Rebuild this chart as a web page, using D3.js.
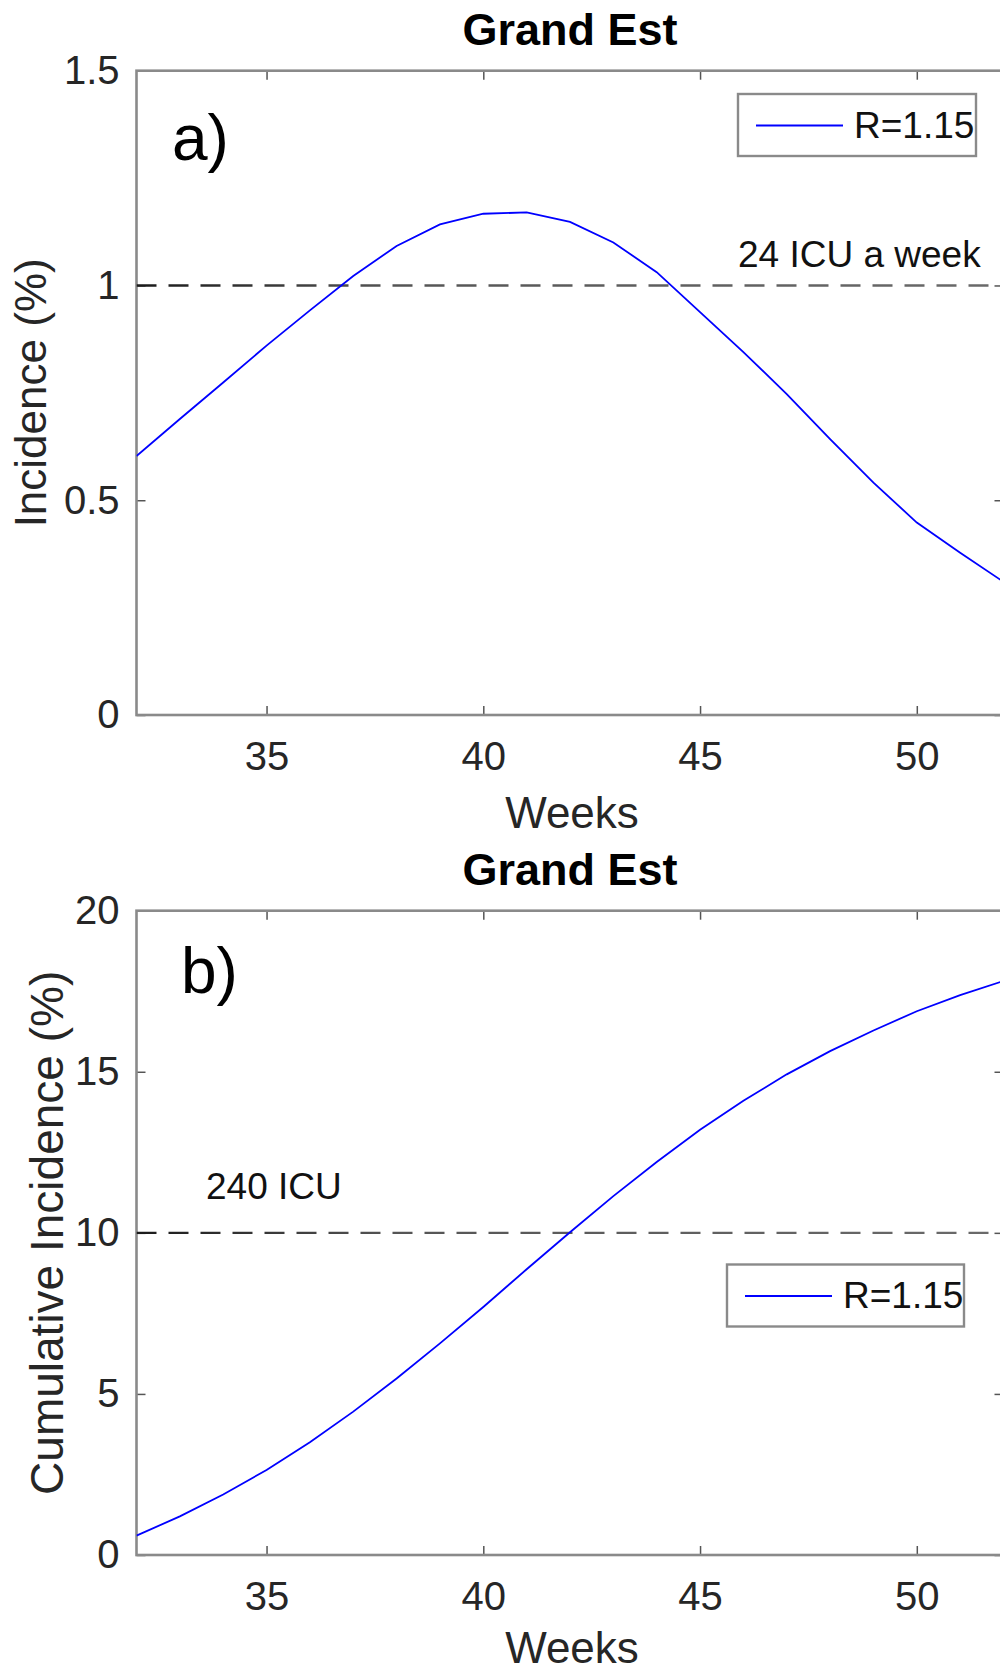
<!DOCTYPE html>
<html>
<head>
<meta charset="utf-8">
<script src="https://cdn.jsdelivr.net/npm/d3@7"></script>
<style>
  html, body { margin: 0; padding: 0; background: #fff; }
  svg { display: block; font-family: "Liberation Sans", Arial, Helvetica, sans-serif; }
</style>
</head>
<body>
<svg id="chart" width="1000" height="1673"></svg>
<script>
// ---- data ----
const weeks = [32, 33, 34, 35, 36, 37, 38, 39, 40, 41, 42, 43, 44, 45, 46, 47, 48, 49, 50, 51, 52];
const incidence = [0.603, 0.689, 0.774, 0.86, 0.942, 1.022, 1.092, 1.142, 1.167, 1.170, 1.148, 1.10, 1.031, 0.938, 0.845, 0.747, 0.642, 0.541, 0.448, 0.378, 0.31];
const cumulative = [0.6, 1.2, 1.88, 2.64, 3.5, 4.45, 5.48, 6.57, 7.7, 8.87, 10.02, 11.14, 12.2, 13.2, 14.1, 14.92, 15.64, 16.28, 16.88, 17.38, 17.82];
const xTicks = [35, 40, 45, 50];
const yTicksA = [0, 0.5, 1, 1.5];
const yTicksB = [0, 5, 10, 15, 20];
const titleText = "Grand Est";
const seriesName = "R=1.15";

const svg = d3.select("#chart");
const FONT_COLOR = "#262626";
const AXIS_COLOR = "#8a8a8a";

// gradient for the dashed threshold line (dark at left, lighter gray to the right)
const defs = svg.append("defs");
const grad = defs.append("linearGradient").attr("id", "dashGrad")
  .attr("gradientUnits", "userSpaceOnUse").attr("x1", 136).attr("x2", 1000).attr("y1", 0).attr("y2", 0);
grad.append("stop").attr("offset", "0%").attr("stop-color", "#1a1a1a");
grad.append("stop").attr("offset", "30%").attr("stop-color", "#555");
grad.append("stop").attr("offset", "100%").attr("stop-color", "#6a6a6a");

function panel(opts) {
  const top = opts.top, bottom = opts.top + 644.3;
  const x = d3.scaleLinear().domain([32, 52]).range([136.5, 1003.5]);
  const y = d3.scaleLinear().domain(opts.yDomain).range([bottom, top]);
  const g = svg.append("g");

  const clipId = "clip" + opts.id;
  defs.append("clipPath").attr("id", clipId)
    .append("rect").attr("x", x(32)).attr("y", top).attr("width", x(52) - x(32)).attr("height", bottom - top);

  // title
  g.append("text").attr("x", 570).attr("y", top - 25.7)
    .attr("text-anchor", "middle").attr("font-size", 45).attr("font-weight", "bold")
    .attr("fill", "#000").text(titleText);

  // axes
  const xb = g.append("g").attr("transform", `translate(0,${bottom})`)
    .call(d3.axisBottom(x).tickValues(xTicks).tickSize(-9).tickSizeOuter(0).tickPadding(27).tickFormat(d3.format("d")));
  const xt = g.append("g").attr("transform", `translate(0,${top})`)
    .call(d3.axisTop(x).tickValues(xTicks).tickSize(-9).tickSizeOuter(0).tickFormat(""));
  const yl = g.append("g").attr("transform", `translate(${x(32)},0)`)
    .call(d3.axisLeft(y).tickValues(opts.yTicks).tickSize(-9).tickSizeOuter(0).tickPadding(17).tickFormat(d => String(d)));
  const yr = g.append("g").attr("transform", `translate(${x(52)},0)`)
    .call(d3.axisRight(y).tickValues(opts.yTicks).tickSize(-9).tickSizeOuter(0).tickFormat(""));
  [xb, xt, yl, yr].forEach(a => {
    a.select(".domain").remove();
    a.selectAll(".tick line").attr("stroke", "#555").attr("stroke-width", 1.5);
    a.selectAll("text").attr("font-size", 40).attr("fill", FONT_COLOR)
      .attr("font-family", "'Liberation Sans', Arial, Helvetica, sans-serif");
  });

  // box
  g.append("rect").attr("x", x(32)).attr("y", top).attr("width", x(52) - x(32)).attr("height", bottom - top)
    .attr("fill", "none").attr("stroke", AXIS_COLOR).attr("stroke-width", 2.6);

  // axis labels
  g.append("text").attr("x", 572).attr("y", bottom + opts.xlabelDy)
    .attr("text-anchor", "middle").attr("font-size", 44).attr("fill", FONT_COLOR).text("Weeks");
  g.append("text").attr("transform", `translate(${opts.ylabelX},${(top + bottom) / 2}) rotate(-90)`)
    .attr("text-anchor", "middle").attr("font-size", opts.ylabelSize).attr("fill", FONT_COLOR).text(opts.ylabel);

  // threshold dashed line
  g.append("line").attr("clip-path", `url(#${clipId})`)
    .attr("x1", x(32)).attr("x2", x(52)).attr("y1", y(opts.threshold)).attr("y2", y(opts.threshold))
    .attr("stroke", "url(#dashGrad)").attr("stroke-width", 2.4).attr("stroke-dasharray", "20,12");

  // series line
  const line = d3.line().x((d, i) => x(weeks[i])).y(d => y(d));
  g.append("path").datum(opts.values).attr("clip-path", `url(#${clipId})`)
    .attr("d", line).attr("fill", "none").attr("stroke", "#0000ff").attr("stroke-width", 1.8);

  // panel letter
  g.append("text").attr("x", opts.letterX).attr("y", opts.letterY)
    .attr("font-size", 64).attr("fill", "#000").text(opts.letter);

  // threshold annotation
  g.append("text").attr("x", opts.annX).attr("y", opts.annY)
    .attr("font-size", 37).attr("fill", "#111").text(opts.ann);

  // legend
  const L = opts.legend;
  g.append("rect").attr("x", L.x).attr("y", L.y).attr("width", L.w).attr("height", L.h)
    .attr("fill", "#fff").attr("stroke", "#8a8a8a").attr("stroke-width", 2.4);
  g.append("line").attr("x1", L.x + 18).attr("x2", L.x + 105).attr("y1", L.y + 31.5).attr("y2", L.y + 31.5)
    .attr("stroke", "#0000ff").attr("stroke-width", 1.8);
  g.append("text").attr("x", L.x + 116).attr("y", L.y + 43.5)
    .attr("font-size", 37).attr("fill", "#111").text(seriesName);
}

panel({
  id: "a", top: 70.7, yDomain: [0, 1.5], yTicks: yTicksA, values: incidence, threshold: 1,
  ylabel: "Incidence (%)", ylabelX: 46, ylabelSize: 44, xlabelDy: 113,
  letter: "a)", letterX: 172, letterY: 160,
  ann: "24 ICU a week", annX: 738, annY: 266.5,
  legend: { x: 738, y: 94, w: 238, h: 62 }
});

panel({
  id: "b", top: 910.7, yDomain: [0, 20], yTicks: yTicksB, values: cumulative, threshold: 10,
  ylabel: "Cumulative Incidence (%)", ylabelX: 63, ylabelSize: 46, xlabelDy: 108,
  letter: "b)", letterX: 181, letterY: 993,
  ann: "240 ICU", annX: 206, annY: 1199,
  legend: { x: 727, y: 1264.5, w: 237, h: 62 }
});
</script>
</body>
</html>
